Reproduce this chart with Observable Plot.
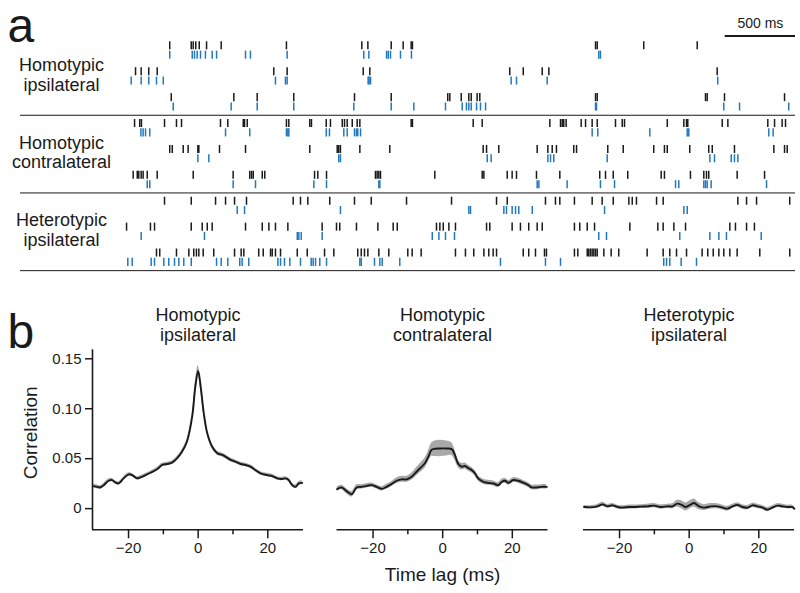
<!DOCTYPE html>
<html><head><meta charset="utf-8">
<script src="https://cdn.jsdelivr.net/npm/d3@7"></script>
<script src="https://cdn.jsdelivr.net/npm/@observablehq/plot@0.6"></script>
<style>
body{margin:0;background:#fff;}
#root{position:relative;width:800px;height:593px;overflow:hidden;background:#fff;}
#root svg{position:absolute;}
</style></head><body><div id="root"></div>
<script>
// ---------- Panel a: spike rasters (times in ms) ----------
const g1p1k = [350,503,517,535,560,612,716,1180,1716,1759,1925,2010,2067,2076,3378,3390,3721,4101];
const g1p1b = [350,510,526,545,569,604,652,683,889,924,1185,1730,1766,1892,1904,1920,1991,2069,3401,3413];
const g1p2k = [107,147,201,261,1090,1185,1726,1773,2768,2864,2999,3046,4243];
const g1p2b = [76,147,201,256,304,1102,1173,1185,1761,1768,1778,2778,2816,3034,4247];
const g1p3k = [361,806,972,1232,1664,1925,2327,2342,2423,2477,2494,2536,2555,3378,3390,4160,4172,4295,4722];
const g1p3b = [375,787,972,1232,1659,1925,2086,2311,2430,2460,2477,2494,2532,2560,2596,3378,3385,4290,4402,4752];
const g2p1k = [100,137,149,313,398,434,711,763,873,882,901,1180,1197,1346,1358,1463,1493,1577,1593,1612,1648,1683,1702,2067,2076,2508,2572,3053,3129,3141,3152,3169,3276,3307,3354,3390,3520,3568,3584,3888,4006,4025,4034,4279,4319,4603,4651,4705,4729];
const g2p1b = [145,161,178,208,747,919,1180,1190,1197,1463,1486,1588,1612,1664,1678,1687,1707,3354,3394,3764,4030,4041,4610,4641];
const g2p2k = [350,368,446,481,550,557,704,889,1346,1541,1552,1564,1702,1915,2579,2603,2690,2963,3039,3070,3100,3223,3243,3465,3575,3792,3868,3888,4048,4183,4208,4366,4646,4722,4741];
const g2p2b = [550,628,1552,1564,2608,2636,3039,3058,3081,3461,4191,4224,4343,4366,4390];
const g2p3k = [90,119,130,147,161,190,261,517,801,919,932,944,1008,1026,1380,1403,1465,1813,1825,1837,1849,2235,2572,2584,2750,2785,2816,2958,3124,3408,3449,3504,3607,3845,3868,4053,4148,4167,4183,4385,4580];
const g2p3b = [190,208,801,960,1375,1465,1837,1844,2963,2975,3176,3413,3513,3947,3970,4148,4160,4172,4200,4594];
const g3p1k = [313,503,676,747,811,896,1228,1280,1332,1488,1664,1783,2034,2354,2674,2750,3022,3093,3124,3228,3354,3425,3504,3615,3639,3669,3812,3859,4390,4452,4523,4759];
const g3p1b = [830,882,1564,2477,2489,2726,2745,2785,2809,2832,2928,3442,4006,4030];
const g3p2k = [43,213,242,503,581,617,652,889,1008,1055,1102,1190,1434,1536,1559,1678,1830,1939,1968,2247,2271,2295,2335,2382,2603,2626,2785,2844,2903,2963,2999,3228,3266,3319,3371,3622,3821,3859,3935,4018,4333,4373,4452,4508];
const g3p2b = [147,597,1257,1268,1285,1434,2217,2264,2311,2375,3401,3456,3977,4191,4255,4309,4556];
const g3p3k = [256,279,398,486,521,540,557,588,663,811,858,877,983,1015,1067,1079,1102,1138,1257,1328,1451,1517,1687,1712,1735,1759,1837,1908,2043,2074,2138,2382,2453,2512,2584,2619,2650,2674,2864,2903,2951,3015,3029,3228,3252,3319,3330,3342,3354,3366,3378,3390,3437,3489,3543,3745,3859,3906,3954,4025,4136,4176,4215,4255,4290,4333,4385,4546,4759];
const g3p3b = [52,83,218,242,308,343,384,415,450,503,683,716,763,848,865,912,1119,1138,1166,1204,1280,1356,1370,1387,1417,1465,1702,1712,1806,1844,1861,1986,2702,3022,3129,3863,3883,3906,3987,4096];

const groupLabels = ["Homotypic\nipsilateral", "Homotypic\ncontralateral", "Heterotypic\nipsilateral"];
const scaleBar = [4300, 4800];
const scaleBarLabel = "500 ms";

// ---------- Panel b: correlation vs time lag ----------
const panelTitles = ["Homotypic\nipsilateral", "Homotypic\ncontralateral", "Heterotypic\nipsilateral"];
const lag1 = [-30.0,-29.0,-28.1,-27.1,-25.7,-24.7,-23.8,-22.8,-21.4,-19.9,-19.0,-17.5,-16.6,-15.1,-13.7,-11.8,-10.3,-8.9,-7.5,-6.0,-4.6,-3.2,-1.7,-0.8,0,0.7,1.6,2.6,4.0,5.5,6.9,7.8,9.3,10.7,12.2,13.6,15.0,16.4,17.9,19.8,21.3,22.7,24.1,25.1,26.0,27.0,28.0,28.9,29.9];
const corr1 = [0.0225,0.0218,0.0212,0.0235,0.0279,0.0286,0.0262,0.0252,0.0303,0.0343,0.0336,0.0303,0.0313,0.0336,0.0359,0.0394,0.0437,0.0447,0.0460,0.0505,0.0571,0.0672,0.0925,0.1227,0.1379,0.1227,0.0959,0.0757,0.0622,0.0555,0.0538,0.0521,0.0488,0.0470,0.0447,0.0437,0.0420,0.0387,0.0353,0.0336,0.0326,0.0303,0.0296,0.0303,0.0286,0.0235,0.0218,0.0252,0.0258];
const sem1 = [0.0018,0.0018,0.0018,0.0017,0.0017,0.0016,0.0016,0.0016,0.0016,0.0016,0.0016,0.0016,0.0016,0.0016,0.0016,0.0017,0.0017,0.0018,0.0018,0.0020,0.0022,0.0026,0.0035,0.0045,0.0055,0.0045,0.0035,0.0026,0.0022,0.0020,0.0020,0.0020,0.0019,0.0018,0.0018,0.0018,0.0018,0.0018,0.0017,0.0017,0.0017,0.0017,0.0017,0.0017,0.0017,0.0018,0.0018,0.0018,0.0018];
const lag2 = [-30.3,-29.0,-27.6,-26.1,-24.7,-23.3,-21.8,-20.4,-19.0,-17.5,-16.1,-14.7,-13.2,-11.8,-10.3,-8.9,-7.5,-6.5,-5.1,-4.1,-3.2,-2.2,-0.8,1.1,2.6,3.5,4.5,5.5,6.4,7.4,8.3,9.3,10.2,11.7,13.1,14.6,16.0,17.0,17.9,18.9,20.3,21.7,23.2,24.6,25.6,27.0,28.4,29.9];
const corr2 = [0.0195,0.0212,0.0175,0.0144,0.0212,0.0218,0.0228,0.0235,0.0218,0.0198,0.0218,0.0245,0.0279,0.0293,0.0293,0.0319,0.0369,0.0404,0.0454,0.0521,0.0588,0.0599,0.0602,0.0602,0.0596,0.0538,0.0447,0.0420,0.0427,0.0404,0.0387,0.0353,0.0303,0.0269,0.0258,0.0252,0.0235,0.0269,0.0279,0.0258,0.0286,0.0279,0.0258,0.0235,0.0212,0.0212,0.0218,0.0218];
const sem2 = [0.0022,0.0022,0.0025,0.0028,0.0025,0.0022,0.0022,0.0022,0.0022,0.0022,0.0025,0.0025,0.0028,0.0030,0.0030,0.0035,0.0042,0.0046,0.0050,0.0056,0.0066,0.0078,0.0082,0.0076,0.0064,0.0052,0.0038,0.0033,0.0030,0.0030,0.0028,0.0028,0.0026,0.0025,0.0025,0.0025,0.0025,0.0025,0.0024,0.0024,0.0024,0.0024,0.0024,0.0024,0.0024,0.0024,0.0022,0.0022];
const lag3 = [-30.2,-28.3,-26.3,-24.9,-23.5,-22.0,-20.6,-19.2,-17.2,-15.8,-13.9,-12.0,-10.1,-8.1,-6.2,-4.8,-3.4,-1.9,-1.0,0.5,1.4,2.9,4.3,6.2,8.1,9.6,11.0,12.5,13.9,15.3,16.8,18.2,19.6,21.1,22.5,23.9,25.4,26.8,28.3,29.7,30.2];
const corr3 = [0.0016,0.0013,0.0023,0.0043,0.0023,0.0033,0.0016,0.0010,0.0016,0.0016,0.0020,0.0023,0.0030,0.0016,0.0023,0.0023,0.0050,0.0033,0.0016,0.0043,0.0057,0.0023,0.0010,0.0023,0.0023,0.0010,0.0000,0.0023,0.0037,0.0016,0.0010,0.0033,0.0023,0.0010,-0.0010,0.0010,0.0030,0.0023,0.0016,0.0016,0.0000];
const sem3 = [0.0015,0.0015,0.0018,0.0020,0.0018,0.0018,0.0018,0.0018,0.0020,0.0020,0.0020,0.0022,0.0022,0.0022,0.0022,0.0025,0.0035,0.0040,0.0040,0.0040,0.0040,0.0035,0.0030,0.0028,0.0025,0.0025,0.0025,0.0022,0.0022,0.0022,0.0022,0.0022,0.0022,0.0022,0.0022,0.0020,0.0020,0.0020,0.0018,0.0018,0.0018];
const yTicks = [0, 0.05, 0.10, 0.15];
const xMajorTicks = [-20, 0, 20];
const xMinorTicks = [-10, 10];
const yLabel = "Correlation";
const xLabel = "Time lag (ms)";

// ---------- build ----------
const FONT = "'Liberation Sans', Arial, Helvetica, sans-serif";
const INK = "#1a1a1a";
const BLUE = "#2278bd";
const root = document.getElementById("root");
function place(el, left, top) { el.style.left = left + "px"; el.style.top = top + "px"; root.appendChild(el); }

const pairs = [[g1p1k,g1p1b],[g1p2k,g1p2b],[g1p3k,g1p3b],[g2p1k,g2p1b],[g2p2k,g2p2b],[g2p3k,g2p3b],[g3p1k,g3p1b],[g3p2k,g3p2b],[g3p3k,g3p3b]];
const blackSpikes = pairs.flatMap(([k], i) => k.map(t => ({t, pair: i})));
const blueSpikes = pairs.flatMap(([, b], i) => b.map(t => ({t, pair: i})));
const OFF = 0.18, HALF = 0.155;

const rasterPlot = Plot.plot({
  width: 800, height: 285, marginLeft: 20, marginRight: 5, marginTop: 0, marginBottom: 0,
  x: {domain: [0, 4800], range: [120, 795], axis: null},
  y: {domain: [0, 8], range: [50, 257.2], axis: null},
  style: {fontFamily: FONT, color: INK, background: "transparent", overflow: "visible"},
  marks: [
    Plot.ruleX(blackSpikes, {x: "t", y1: d => d.pair - OFF - HALF, y2: d => d.pair - OFF + HALF, stroke: INK, strokeWidth: 1.5}),
    Plot.ruleX(blueSpikes, {x: "t", y1: d => d.pair + OFF - HALF, y2: d => d.pair + OFF + HALF, stroke: BLUE, strokeWidth: 1.5}),
    Plot.ruleY([2.5, 5.5, 8.5], {stroke: INK, strokeWidth: 1}),
    Plot.ruleY([-0.56], {x1: scaleBar[0], x2: scaleBar[1], stroke: INK, strokeWidth: 2}),
    Plot.text([scaleBarLabel], {x: (scaleBar[0] + scaleBar[1]) / 2, y: -0.56, dy: -8, lineAnchor: "bottom", fontSize: 14, fill: INK}),
    Plot.text(groupLabels.map((t, i) => ({t, pair: i * 3 + 1})), {y: "pair", text: "t", frameAnchor: "left", dx: 41, dy: -2, textAnchor: "middle", lineAnchor: "middle", fontSize: 18, lineHeight: 1.1, fill: INK}),
    Plot.text(["a"], {frameAnchor: "top-left", dx: -13, dy: 41, lineAnchor: "bottom", textAnchor: "start", fontSize: 48, fill: INK})
  ]
});
place(rasterPlot, 0, 0);

const yDomain = [-0.0212, 0.159];
const xDomain = [-30.35, 30.25];
function panel({lags, corr, sem, title, left, width, ml, mr, first, middle}) {
  const data = lags.map((lag, i) => ({lag, c: corr[i], s: sem[i]}));
  const marks = [
    Plot.areaY(data, {x: "lag", y1: d => d.c - d.s, y2: d => d.c + d.s, fill: "#a8a8a8", curve: "catmull-rom"}),
    Plot.lineY(data, {x: "lag", y: "c", stroke: INK, strokeWidth: 1.9, curve: "catmull-rom"}),
    Plot.ruleY([yDomain[0]], {stroke: INK, strokeWidth: 1.6}),
    Plot.axisX({ticks: xMajorTicks, tickSize: 9, tickPadding: 4, label: null, fontSize: 15, strokeWidth: 1.5}),
    Plot.axisX({ticks: xMinorTicks, tickSize: 5, tickFormat: () => "", label: null, strokeWidth: 1.5}),
    Plot.text([title], {frameAnchor: "top", dy: -9, textAnchor: "middle", lineAnchor: "bottom", fontSize: 18, lineHeight: 1.1, fill: INK})
  ];
  if (first) {
    marks.push(
      Plot.ruleX([xDomain[0]], {stroke: INK, strokeWidth: 1.6}),
      Plot.axisY({ticks: yTicks, tickSize: 7, tickPadding: 4, label: null, fontSize: 15, strokeWidth: 1.5, tickFormat: d => d === 0 ? "0" : d.toFixed(2)}),
      Plot.text([yLabel], {frameAnchor: "left", dx: -62, dy: -7, rotate: -90, textAnchor: "middle", lineAnchor: "middle", fontSize: 19, fill: INK}),
      Plot.text(["b"], {frameAnchor: "top-left", dx: -85, dy: -2, lineAnchor: "bottom", textAnchor: "start", fontSize: 48, fill: INK})
    );
  }
  if (middle) {
    marks.push(Plot.text([xLabel], {frameAnchor: "bottom", dy: 51, textAnchor: "middle", lineAnchor: "bottom", fontSize: 19, fill: INK}));
  }
  const p = Plot.plot({
    width, height: 300, marginLeft: ml, marginRight: mr, marginTop: 59.3, marginBottom: 60.7,
    x: {domain: xDomain},
    y: first ? {domain: yDomain} : {domain: yDomain, axis: null},
    style: {fontFamily: FONT, color: INK, background: "transparent", overflow: "visible"},
    marks
  });
  place(p, left, 290);
}
panel({lags: lag1, corr: corr1, sem: sem1, title: panelTitles[0], left: 0, width: 310, ml: 92, mr: 7, first: true});
panel({lags: lag2, corr: corr2, sem: sem2, title: panelTitles[1], left: 310, width: 250, ml: 26.5, mr: 12.5, middle: true});
panel({lags: lag3, corr: corr3, sem: sem3, title: panelTitles[2], left: 560, width: 240, ml: 23, mr: 6});
</script></body></html>
